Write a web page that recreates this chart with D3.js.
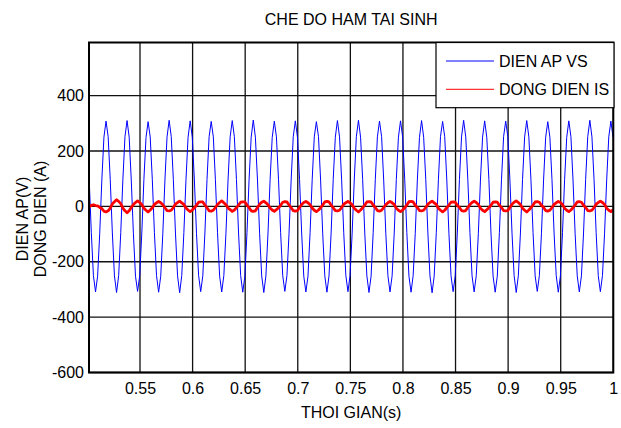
<!DOCTYPE html>
<html><head><meta charset="utf-8">
<script src="https://cdn.jsdelivr.net/npm/d3@7"></script>
<style>body{margin:0;background:#fff} text{font-family:"Liberation Sans",Arial,Helvetica,sans-serif;fill:#000}</style>
</head><body><svg id="c" width="621" height="428"></svg>
<script>
const chartTitle = "CHE DO HAM TAI SINH";
const xLabel = "THOI GIAN(s)";
const yLabelLines = ["DIEN AP(V)", "DONG DIEN (A)"];
const seriesNames = ["DIEN AP VS", "DONG DIEN IS"];
const xTicks = [0.55, 0.6, 0.65, 0.7, 0.75, 0.8, 0.85, 0.9, 0.95, 1];
const xTickLabels = ["0.55", "0.6", "0.65", "0.7", "0.75", "0.8", "0.85", "0.9", "0.95", "1"];
const yTicks = [-600, -400, -200, 0, 200, 400];
const yTickLabels = ["-600", "-400", "-200", "0", "200", "400"];
const xDomain = [0.5015, 1.0];
const yDomain = [-600, 592];
// sample times: start + i*step (2 ms sampling)
const tStart = 0.5017, tStep = 0.002;
const voltageVS = [
 96,-95,-250,-309,-252,-97,95,250,308,252,
 97,-96,-251,-311,-250,-95,96,252,310,250,
 95,-97,-252,-307,-251,-96,97,249,306,251,
 96,-95,-250,-310,-252,-97,95,251,311,252,
 97,-96,-251,-312,-250,-95,96,250,309,250,
 95,-97,-249,-308,-251,-96,97,252,307,251,
 96,-95,-252,-309,-250,-97,95,251,310,252,
 97,-96,-250,-310,-252,-95,96,250,312,250,
 95,-97,-251,-311,-251,-96,97,249,308,251,
 96,-95,-250,-307,-250,-97,95,252,309,250,
 97,-96,-252,-309,-252,-95,96,251,306,252,
 95,-97,-251,-310,-251,-96,97,250,310,251,
 96,-95,-249,-308,-250,-97,95,252,311,250,
 97,-96,-251,-311,-252,-95,96,251,308,252,
 95,-97,-250,-309,-251,-96,97,250,309,251,
 96,-95,-252,-310,-250,-97,95,249,310,250,
 97,-96,-251,-312,-252,-95,96,252,307,252,
 95,-97,-250,-308,-251,-96,97,251,311,251,
 96,-95,-251,-309,-250,-97,95,250,309,250,
 97,-96,-252,-310,-252,-95,96,252,308,252,
 95,-97,-250,-311,-251,-96,97,251,310,251,
 96,-95,-251,-307,-250,-97,95,250,306,250,
 97,-96,-249,-310,-252,-95,96,249,309,252,
 95,-97,-251,-309,-251,-96,97,252,311,251,
 96,-95,-250,-308,-250,-97,95,251,308,251
];
const currentIS = [
 -2,4,6,3,2,-4,-8,-17,-20,-16,
 -6,9,17,24,18,10,-6,-16,-23,-16,
 -4,7,14,20,14,7,-7,-14,-20,-13,
 -5,7,13,18,13,6,-5,-15,-16,-14,
 -4,8,14,19,13,7,-6,-13,-19,-13,
 -5,4,15,16,16,5,-5,-16,-17,-14,
 -4,7,14,20,13,6,-6,-12,-18,-13,
 -5,5,15,16,16,5,-5,-16,-18,-16,
 -4,8,15,19,13,6,-6,-13,-18,-12,
 -5,4,15,17,16,5,-5,-15,-17,-15,
 -4,7,14,18,13,6,-6,-14,-19,-13,
 -5,5,16,18,16,5,-5,-15,-16,-14,
 -4,8,13,18,13,6,-7,-14,-20,-13,
 -5,5,16,17,16,5,-4,-15,-17,-14,
 -4,6,13,18,13,7,-7,-14,-19,-13,
 -5,5,17,18,16,4,-4,-15,-16,-14,
 -4,8,14,19,13,7,-7,-14,-20,-14,
 -5,5,15,16,15,4,-4,-15,-17,-15,
 -4,7,14,19,14,7,-7,-14,-19,-12,
 -5,4,15,16,15,4,-4,-15,-16,-15,
 -4,8,15,20,14,7,-7,-14,-20,-13,
 -5,5,16,17,15,4,-4,-15,-17,-14,
 -4,7,13,18,14,7,-7,-14,-19,-13,
 -5,5,16,17,15,4,-4,-15,-16,-14,
 -4,8,14,19,14,7,-7,-14,-19,-12
];
const colors = ["#0000ff", "#ff0000"];

const svg = d3.select("#c");
const L = 89, R = 613.3, T = 42.5, B = 372.5;
const x = d3.scaleLinear().domain(xDomain).range([L, R]);
const y = d3.scaleLinear().domain(yDomain).range([B, T]);

svg.append("rect").attr("width",621).attr("height",428).attr("fill","#fff");
svg.append("defs").append("clipPath").attr("id","clip")
  .append("rect").attr("x",L).attr("y",T).attr("width",R-L).attr("height",B-T);

// grid
const g = svg.append("g");
g.selectAll(".gx").data(xTicks).enter().append("line")
  .attr("x1",d=>x(d)).attr("x2",d=>x(d)).attr("y1",T).attr("y2",B)
  .attr("stroke","#111").attr("stroke-width",1.3);
g.selectAll(".gy").data(yTicks).enter().append("line")
  .attr("x1",L).attr("x2",R).attr("y1",d=>y(d)).attr("y2",d=>y(d))
  .attr("stroke","#111").attr("stroke-width",1.3);

const line = d3.line().x((d,i)=>x(tStart + i*tStep)).y(d=>y(d));
const plot = svg.append("g").attr("clip-path","url(#clip)");
plot.append("path").datum(voltageVS).attr("d",line).attr("fill","none")
  .attr("stroke",colors[0]).attr("stroke-width",1);
plot.append("path").datum(currentIS).attr("d",line).attr("fill","none")
  .attr("stroke",colors[1]).attr("stroke-width",2.8).attr("stroke-linejoin","round");

// border
svg.append("rect").attr("x",L).attr("y",T).attr("width",R-L).attr("height",B-T)
  .attr("fill","none").attr("stroke","#000").attr("stroke-width",2);

const xAxis = d3.axisBottom(x).tickValues(xTicks).tickFormat((d,i)=>xTickLabels[i]).tickSize(0).tickPadding(10);
const xa = svg.append("g").attr("transform",`translate(0,${B})`).call(xAxis);
xa.select(".domain").remove();
xa.selectAll("text").style("font-size","16px").style("font-family","Liberation Sans, Arial, sans-serif").attr("fill","#000");
const yAxis = d3.axisLeft(y).tickValues(yTicks).tickFormat((d,i)=>yTickLabels[i]).tickSize(0).tickPadding(5);
const ya = svg.append("g").attr("transform",`translate(${L},0)`).call(yAxis);
ya.select(".domain").remove();
ya.selectAll("text").style("font-size","16px").style("font-family","Liberation Sans, Arial, sans-serif").attr("fill","#000");

svg.append("text").attr("x",(L+R)/2).attr("y",25).attr("text-anchor","middle")
  .style("font-size","16px").text(chartTitle);
svg.append("text").attr("x",(L+R)/2).attr("y",418).attr("text-anchor","middle")
  .style("font-size","16px").text(xLabel);
yLabelLines.forEach((s,i)=>{
  svg.append("text").attr("transform",`translate(${28+i*18},219) rotate(-90)`)
    .attr("text-anchor","middle").style("font-size","16px").text(s);
});

// legend
const lg = svg.append("g");
lg.append("rect").attr("x",436).attr("y",T).attr("width",614-436).attr("height",107.7-T)
  .attr("fill","#fff").attr("stroke","#000").attr("stroke-width",1.2);
seriesNames.forEach((s,i)=>{
  const yy = 61 + i*28.3;
  lg.append("line").attr("x1",446).attr("x2",494).attr("y1",yy).attr("y2",yy)
    .attr("stroke",colors[i]).attr("stroke-width",1);
  lg.append("text").attr("x",499).attr("y",yy).attr("dy","0.36em")
    .style("font-size","16px").text(s);
});
</script></body></html>
